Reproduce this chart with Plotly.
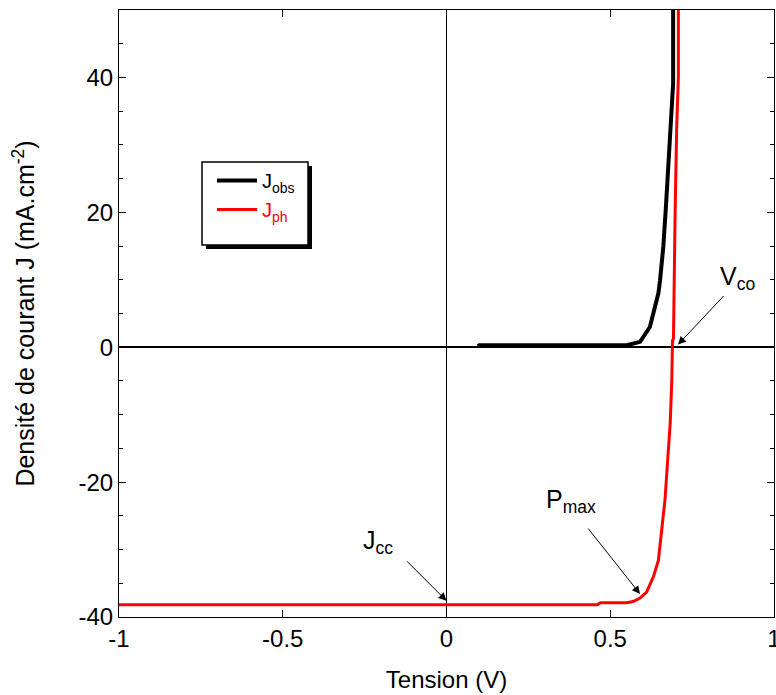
import plotly.graph_objects as go

# Data
V_obs = [0.096, 0.10, 0.55, 0.591, 0.621, 0.637, 0.647, 0.652, 0.662, 0.670, 0.677, 0.685, 0.692, 0.692]
J_obs = [0.15, 0.3, 0.3, 0.8, 3.0, 6.0, 8.0, 9.9, 14.9, 20.8, 26.7, 32.6, 39.1, 50.0]

V_ph = [-1.0, 0.46, 0.47, 0.55, 0.570, 0.591, 0.611, 0.632, 0.647, 0.657, 0.667, 0.674, 0.683, 0.688,
        0.690, 0.693, 0.695, 0.698, 0.703, 0.708, 0.708]
J_ph = [-38.2, -38.2, -37.9, -37.9, -37.7, -37.2, -36.3, -34.0, -31.6, -27.6, -22.7, -17.7, -11.3, -4.9,
        1.0, 1.3, 10.4, 19.6, 32.9, 40.0, 50.0]

x_ticks = [-1, -0.5, 0, 0.5, 1]
x_ticklabels = ["-1", "-0.5", "0", "0.5", "1"]
y_ticks = [-40, -20, 0, 20, 40]
y_ticklabels = ["-40", "-20", "0", "20", "40"]

FONT = "Liberation Sans, Arial, sans-serif"

W, H = 776, 695
L, R, T, B = 119, 2, 10, 695 - 617
PW, PH = W - L - R, H - T - B


def px(xp):
    return (xp - L) / PW


def py(yp):
    return (617 - yp) / PH


fig = go.Figure()
fig.add_trace(go.Scatter(x=V_obs, y=J_obs, mode="lines", name="J<sub>obs</sub>",
                         line=dict(color="black", width=4)))
fig.add_trace(go.Scatter(x=V_ph, y=J_ph, mode="lines",
                         name='<span style="color:red">J<sub>ph</sub></span>',
                         line=dict(color="red", width=3)))

axis_common = dict(
    showgrid=False, showline=True, linecolor="black", linewidth=1, mirror="allticks",
    ticks="inside", ticklen=7, tickcolor="black", tickwidth=1,
    tickfont=dict(family=FONT, size=24, color="black"),
    zeroline=True, zerolinecolor="black", ticklabeloverflow="allow",
    automargin=False,
)

fig.update_layout(
    width=W, height=H, autosize=False,
    margin=dict(l=L, r=R, t=T, b=B),
    paper_bgcolor="white", plot_bgcolor="white",
    font=dict(family=FONT, color="black"),
    xaxis=dict(range=[-1, 1], tickvals=x_ticks, ticktext=x_ticklabels,
               zerolinewidth=1,
               title=dict(text="Tension (V)", font=dict(family=FONT, size=24), standoff=20),
               **axis_common),
    yaxis=dict(range=[-40, 50], tickvals=y_ticks, ticktext=y_ticklabels,
               zerolinewidth=2,
               minor=dict(dtick=5, ticks="inside", ticklen=4, tickcolor="black"),
               title=dict(text="Densité de courant J (mA.cm<sup>-2</sup>)",
                          font=dict(family=FONT, size=25), standoff=36),
               **axis_common),
    showlegend=True,
    legend=dict(x=px(212), y=py(161), xanchor="left", yanchor="top",
                bgcolor="rgba(0,0,0,0)", borderwidth=0,
                font=dict(family=FONT, size=20, color="black"),
                itemwidth=40, tracegroupgap=0),
)

# legend frame with drop shadow
fig.add_shape(type="rect", xref="paper", yref="paper",
              x0=px(206), x1=px(312), y0=py(249), y1=py(166),
              fillcolor="black", line=dict(width=0), layer="above")
fig.add_shape(type="rect", xref="paper", yref="paper",
              x0=px(202), x1=px(308), y0=py(245), y1=py(162),
              fillcolor="white", line=dict(color="black", width=1.5), layer="above")

# labels
ann_font = dict(family=FONT, size=25, color="black")
fig.add_annotation(x=0.89, y=10.3, xref="x", yref="y", text="V<sub>co</sub>",
                   showarrow=False, font=ann_font)
fig.add_annotation(x=0.38, y=-22.8, xref="x", yref="y", text="P<sub>max</sub>",
                   showarrow=False, font=ann_font)
fig.add_annotation(x=-0.209, y=-28.9, xref="x", yref="y", text="J<sub>cc</sub>",
                   showarrow=False, font=ann_font)

# arrows
arrow = dict(showarrow=True, arrowhead=2, arrowsize=1.6, arrowwidth=1, arrowcolor="black",
             text="", xref="x", yref="y")
fig.add_annotation(x=0.707, y=0.4, ax=47, ay=-50, **arrow)
fig.add_annotation(x=0.591, y=-36.6, ax=-53, ay=-67, **arrow)
fig.add_annotation(x=0.0, y=-37.6, ax=-41, ay=-41, **arrow)

page_fix = ("document.body.style.margin='0';"
            "document.body.style.overflow='hidden';"
            "document.documentElement.style.overflow='hidden';")
fig.write_html("out.html", config={"responsive": False, "displayModeBar": False},
               post_script=page_fix)
